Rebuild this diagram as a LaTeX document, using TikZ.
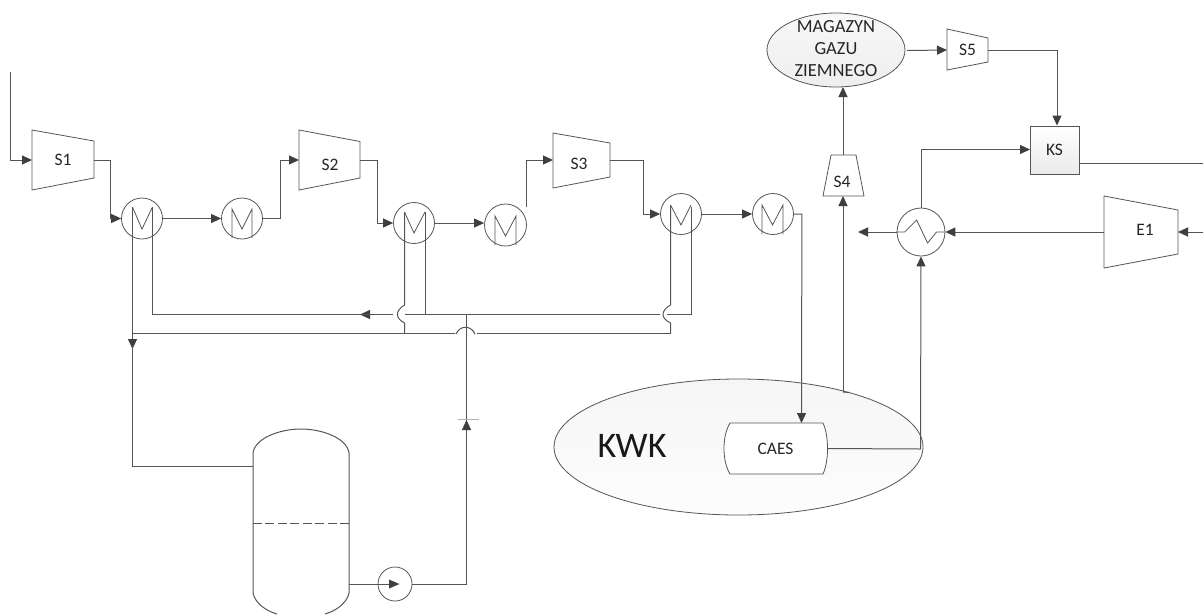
\documentclass[tikz,border=0pt]{standalone}
\usepackage{fontspec}
\setmainfont{Carlito}
\usetikzlibrary{arrows.meta,calc,shadings}
\definecolor{ln}{HTML}{555555}
\definecolor{tip}{HTML}{3F3F3F}
\definecolor{tx}{HTML}{262626}
\tikzset{
  x=1pt,y=-1pt,
  pipe/.style={draw=ln,line width=1pt},
  flow/.style={pipe,-{Triangle[length=10pt,width=9pt,color=tip]}},
  outline/.style={draw=ln,line width=0.8pt},
  port/.style={inner sep=0pt,outer sep=0pt,text=tx,font=\fontsize{17.5}{20}\selectfont},
  hx/.style={circle,draw=ln,line width=0.8pt,inner sep=0pt,minimum size=41pt,fill=white}
}
\begin{document}
\begin{tikzpicture}
\useasboundingbox (0,0) rectangle (1203,614);
\fill[white] (0,0) rectangle (1203,614);

% KWK ellipse
\shade[top color=gray!7,bottom color=gray!2] (738.5,447) ellipse [x radius=184.5,y radius=68];
\draw[outline] (738.5,447) ellipse [x radius=184.5,y radius=68];
\node[inner sep=0pt,text=black!90,font=\fontsize{36}{40}\selectfont] (KWK) at (632,446) {KWK};

% CAES
\draw[outline,fill=white] (730,423) -- (823,423) .. controls (829,436) and (829,461) .. (823,474) -- (730,474) .. controls (722,461) and (722,436) .. (730,423) -- cycle;
\node[port,minimum width=103pt,minimum height=51pt] (CAES) at (775.5,448.5) {CAES};

% Magazyn
\shade[top color=gray!6,bottom color=gray!13] (836,50) ellipse [x radius=69,y radius=37];
\draw[outline] (836,50) ellipse [x radius=69,y radius=37];
\node[inner sep=0pt,text=tx,font=\fontsize{18.5}{22}\selectfont,align=center,minimum width=138pt,minimum height=74pt] (MAG) at (836,49) {MAGAZYN\\GAZU\\ZIEMNEGO};

% compressors and expander
\draw[outline] (32,130) -- (94,141) -- (94,178) -- (32,190) -- cycle;
\node[port,minimum width=62pt,minimum height=60pt] (S1) at (63,160) {S1};
\draw[outline] (299,130) -- (360,141.5) -- (360,178) -- (299,190) -- cycle;
\node[port,minimum width=61pt,minimum height=60pt] (S2) at (329.5,160) {};
\node[port] (S2t) at (330,165) {S2};
\draw[outline] (553,133) -- (610,143) -- (610,177) -- (553,188) -- cycle;
\node[port,minimum width=57pt,minimum height=54pt] (S3) at (581.5,160) {};
\node[port] (S3t) at (579,164) {S3};
\draw[outline] (831,155) -- (856,155) -- (864,196) -- (823,196) -- cycle;
\node[port,minimum width=41pt,minimum height=41pt] (S4) at (843.5,175.5) {};
\node[port] (S4t) at (842,182) {S4};
\draw[outline] (947,29) -- (988,38) -- (988,62) -- (947,70) -- cycle;
\node[port,minimum width=41pt,minimum height=41pt] (S5) at (967.5,50) {S5};
\draw[outline] (1104,196) -- (1178,210) -- (1178,254) -- (1104,268) -- cycle;
\node[port,minimum width=74pt,minimum height=72pt] (E1) at (1141,232) {};
\node[port] (E1t) at (1145,230) {E1};

% KS
\shade[top color=white,bottom color=gray!16] (1030,126) rectangle (1079,174);
\draw[outline] (1030,126) rectangle (1079,174);
\node[port,minimum width=49pt,minimum height=48pt] (KS) at (1054.5,149.5) {KS};

% heat exchangers
\node[hx] (H1) at (142,218.5) {};
\node[hx] (H1b) at (242,218.5) {};
\node[hx] (H2) at (414,223) {};
\node[hx,minimum size=42pt] (H2b) at (505.5,225) {};
\node[hx] (H3) at (681,214) {};
\node[hx] (H3b) at (773,214) {};
\node[hx,minimum size=48pt] (HX) at (921,232) {};
\draw[outline] (HX.west) -- ++(8,0) -- ++(12,-12) -- ++(11,23) -- ++(9,-11) -- (HX.east);

% M symbols
\draw[outline] (132.5,207) -- (142,229) -- (152.5,207);
\draw[outline] (232,238) -- (232,209) -- (242,229) -- (252,209) -- (252,238);
\draw[outline] (404.5,212) -- (414,233) -- (425,212);
\draw[outline] (495,245) -- (495,216) -- (505.5,236) -- (516,216) -- (516,245);
\draw[outline] (670.5,205) -- (681,225) -- (691,205);
\draw[outline] (762,234) -- (762,205) -- (772.5,225) -- (783,205) -- (783,234);

% tank
\draw[outline,line width=1pt] (253,593) -- (253,453)
  .. controls (255,438) and (280,429) .. (301,429) .. controls (322,429) and (347,438) .. (349,453)
  -- (349,593) .. controls (347,603) and (336,611) .. (325,614);
\draw[outline,line width=1pt] (253,593) .. controls (255,603) and (266,611) .. (277,614);
\node[minimum width=96pt,minimum height=185pt,inner sep=0pt] (TANK) at (301,521.5) {};
\draw[pipe,dash pattern=on 9pt off 3.5pt,line width=1.4pt] (TANK.west |- 0,523.5) -- (TANK.east |- 0,523.5);

% pump
\node[circle,draw=ln,line width=0.8pt,minimum size=34pt,inner sep=0pt] (P) at (395,584) {};
\draw[pipe] (TANK.east |- P) -- (390,584);
\fill[tip] (389,579.5) -- (399.5,584) -- (389,588.5) -- cycle;

% free ends
\coordinate (IN) at (10,72);
\coordinate (OUTKS) at (1203,163);
\coordinate (INE) at (1203,232);
\coordinate (HXL) at (858,232);
\coordinate (KWKtop) at (843,392);

% process line
\draw[flow] (IN) |- (S1.west);
\draw[flow] (S1.east) -- ++(16,0) |- (H1.west);
\draw[flow] (H1.east) -- (H1b.west);
\draw[flow] (H1b.east) -- ++(18,0) |- (S2.west);
\draw[flow] (S2.east) -- ++(17,0) |- (H2.west);
\draw[flow] (H2.east) -- (H2.east -| H2b.west);
\draw[flow] (526,207) -- (526,160) -- (S3.west);
\draw[flow] (S3.east) -- ++(33,0) |- (H3.west);
\draw[flow] (H3.east) -- (H3b.west);
\draw[flow] (H3b.east) -- ++(8,0) -- (801.5,423);

% right part
\draw[pipe] (CAES.east) -- (920.5,449);
\draw[flow] (920.5,449) -- (HX.south);
\draw[pipe] (KWKtop) -- ++(6,0.5);
\draw[flow] (KWKtop) -- (843,196);
\draw[flow] (843,155) -- (843,87);
\draw[flow] (907,50.5) -- (S5.west);
\draw[flow] (S5.east) -| (KS.north -| 1057,0);
\draw[flow] (HX.north) |- (KS.west);
\draw[pipe] (1079,163) -- (OUTKS);
\draw[flow] (INE) -- (E1.east);
\draw[flow] (E1.west) -- (HX.east);
\draw[flow] (HX.west) -- (HXL);

% cooling water, upper line (return)
\draw[pipe] (691,207) -- (691,314.5) -- (667,314.5);
\draw[pipe] (670.5,205) -- (670.5,305) .. controls (660.5,311) and (660.5,318) .. (670.5,323) -- (670.5,333.5);
\draw[pipe] (660,314.5) -- (404.5,314.5);
\draw[pipe] (425,212) -- (425,314.5);
\draw[pipe] (404.5,212) -- (404.5,305) .. controls (395,311) and (395,318) .. (404.5,323) -- (404.5,333.5);
\draw[flow] (393,314.5) -- (360,314.5);
\draw[pipe] (372,314.5) -- (152.5,314.5) -- (152.5,207);

% cooling water, lower line
\draw[pipe] (670.5,333.5) -- (477,333.5);
\draw[pipe] (475,334) .. controls (471,325) and (460,325) .. (456,334);
\draw[pipe] (455,333.5) -- (132.5,333.5);
\draw[pipe] (132.5,207) -- (132.5,333.5);
\draw[flow] (132.5,333.5) -- (132.5,349);
\draw[pipe] (132.5,345) -- (132.5,466) -- (TANK.west |- 0,466);

% feed to the upper line
\draw[pipe] (P.east) -- (466.5,584);
\draw[pipe] (466.5,584) -- (466.5,314.5);
\draw[flow] (466.5,584) -- (466.5,420);
\draw[draw=gray!60,line width=0.5pt] (458,419.5) -- (479,419.5);
\end{tikzpicture}
\end{document}
